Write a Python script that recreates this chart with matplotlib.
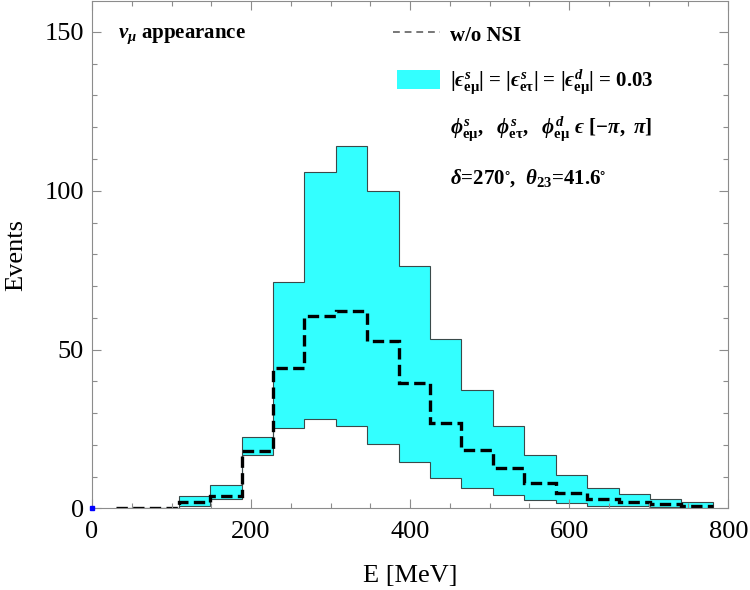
import numpy as np
import matplotlib
matplotlib.use('Agg')
import matplotlib.pyplot as plt
from matplotlib.patches import Rectangle

# bin edges (MeV)
edges = [30, 69.5, 109, 148.5, 188, 227.5, 267, 306.5, 346, 385.5, 425, 464.5,
         504, 543.5, 583, 622.5, 662, 701.5, 741, 780.5]

# event counts per bin
no_nsi = [0.0, 0.0, 1.9, 3.9, 18.1, 44.1, 60.4, 62.0, 52.7, 39.3, 26.8, 18.4,
          12.6, 8.1, 4.8, 2.9, 1.9, 1.5, 0.8]
band_hi = [0.0, 0.0, 4.0, 7.2, 22.6, 71.4, 105.8, 114.2, 100.0, 76.4, 53.3, 37.4,
           26.0, 16.9, 10.5, 6.5, 4.4, 3.0, 1.9]
band_lo = [0.0, 0.0, 0.6, 2.9, 16.7, 25.4, 28.1, 25.8, 20.3, 14.5, 9.5, 6.3,
           4.1, 2.5, 1.6, 0.8, 0.6, 0.3, 0.2]

plt.rcParams['font.family'] = ['Liberation Serif', 'DejaVu Serif']
plt.rcParams['mathtext.fontset'] = 'custom'
plt.rcParams['mathtext.rm'] = 'Liberation Serif:bold'
plt.rcParams['mathtext.bf'] = 'Liberation Serif:bold'
plt.rcParams['mathtext.it'] = 'Liberation Serif:bold:italic'
plt.rcParams['mathtext.fallback'] = 'stix'

fig = plt.figure(figsize=(7.5, 5.9), dpi=100)
ax = fig.add_axes([0.1227, 0.1385, 0.971 - 0.1227, 0.998 - 0.1385])

ax.stairs(band_hi, edges, baseline=band_lo, fill=True,
          facecolor='#33ffff', edgecolor='#3a4a4a', lw=0.8)
ax.stairs(no_nsi, edges, baseline=None, color='black', lw=2.4,
          linestyle=(0, (3.4, 1.6)))
ax.plot(0, 0, 's', color='blue', ms=2.2, clip_on=False, zorder=5)

ax.set_xlim(0, 800)
ax.set_ylim(0, 159.7)
ax.set_xticks([0, 200, 400, 600, 800])
ax.set_xticks(np.arange(0, 801, 50), minor=True)
ax.set_yticks([0, 50, 100, 150])
ax.set_yticks(np.arange(0, 160, 10), minor=True)

grey = '#8c8c8c'
for sp in ax.spines.values():
    sp.set_color(grey)
    sp.set_linewidth(0.8)
ax.tick_params(which='both', direction='in', top=True, right=True, color=grey,
               width=0.8, labelsize=19)
ax.tick_params(which='major', length=6.5)
ax.tick_params(which='minor', length=3.5)
ax.tick_params(axis='x', pad=9)
ax.tick_params(axis='y', pad=6)

ax.set_xlabel('E [MeV]', fontsize=19, labelpad=16)
ax.set_ylabel('Events', fontsize=19, labelpad=12)

eps = '\u03f5'
tk = dict(fontsize=15, fontweight='bold', va='center', ha='left')
ax.text(33, 148.8, r'$\nu_\mu$ appearance', **tk)
ax.plot([378, 437], [150, 150], color='#777777', lw=1.4, linestyle=(0, (3.5, 2.5)))
ax.text(450, 148.8, 'w/o NSI', **tk)
ax.add_patch(Rectangle((383, 132.0), 54, 5.9, facecolor='#33ffff', edgecolor='none'))
ax.text(450, 134.3, rf'$|{eps}^s_{{\rm e\mu}}|$ = $|{eps}^s_{{\rm e\tau}}|$ = $|{eps}^d_{{\rm e\mu}}|$ = 0.03', **tk)
ax.text(450, 119.5, rf'$\phi^s_{{\rm e\mu}},\ \ \phi^s_{{\rm e\tau}},\ \ \phi^d_{{\rm e\mu}}\ {eps}\ [-\pi,\ \pi]$', **tk)
ax.text(450, 104, r'$\delta$=270$^{\circ}$,  $\theta_{23}$=41.6$^{\circ}$', **tk)

fig.savefig('out.png', dpi=100)
